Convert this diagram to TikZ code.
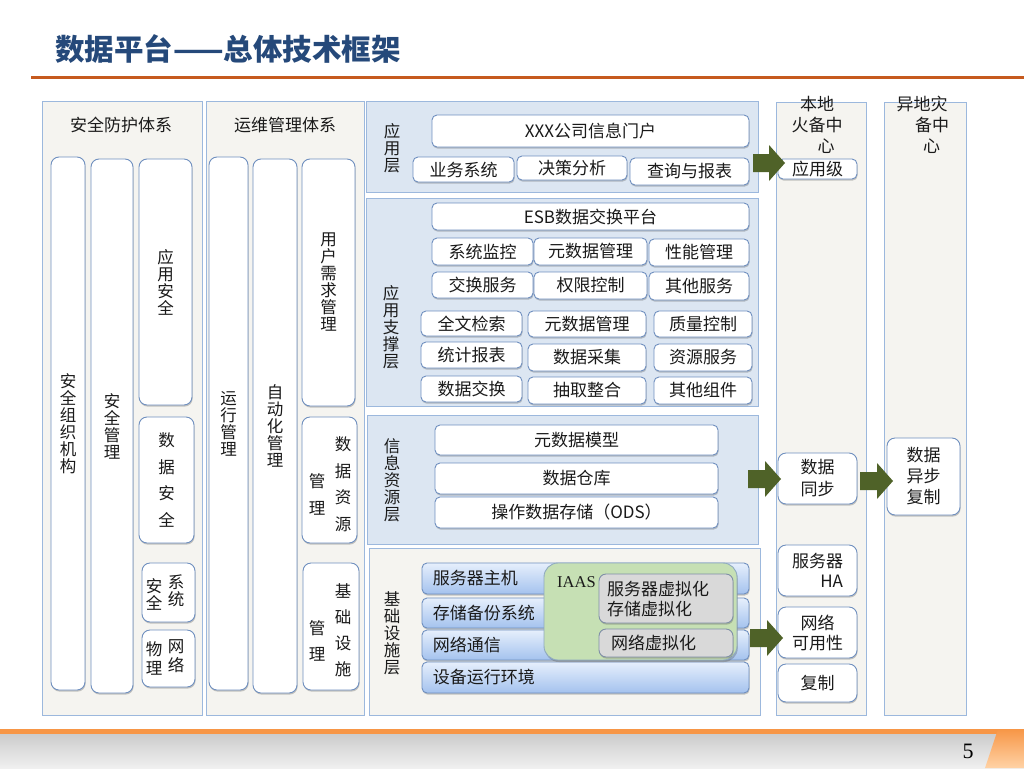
\documentclass[tikz,border=0pt]{standalone}
\usepackage{fontspec}
\setmainfont{Noto Sans CJK SC}
\newfontfamily\serifnum{Liberation Serif}
\usetikzlibrary{shadows,calc}
\definecolor{panelgray}{HTML}{F5F4F0}
\definecolor{panelblue}{HTML}{DCE6F2}
\definecolor{panelline}{HTML}{9CB8DD}
\definecolor{boxline}{HTML}{6F8FBF}
\definecolor{titleblue}{HTML}{25497A}
\definecolor{rulered}{HTML}{C65A1E}
\definecolor{arrowgreen}{HTML}{4F6228}
\definecolor{iaasgreen}{HTML}{C6E0B4}
\definecolor{iaasline}{HTML}{8FAAC0}
\definecolor{vgray}{HTML}{D9D9D9}
\definecolor{vgrayline}{HTML}{7F8FA6}
\definecolor{bartop}{HTML}{E6EFFC}
\definecolor{barbot}{HTML}{A4C2EE}
\definecolor{footorange}{HTML}{F79646}
\definecolor{txt}{HTML}{1A1A1A}
\newcommand\blockarrow[2]{%
  \fill[arrowgreen] ($(#1)+(0,-9)$) -- ($(#2)+(-16,-9)$) -- ($(#2)+(-16,-18)$) -- (#2) -- ($(#2)+(-16,18)$) -- ($(#2)+(-16,9)$) -- ($(#1)+(0,9)$) -- cycle;}
\tikzset{
  span/.style n args={4}{at={({(#1+#3)/2},{(#2+#4)/2})}, minimum width={(#3-#1)*1pt}, minimum height={(#4-#2)*1pt}},
  panel/.style={draw=panelline, line width=0.8pt, fill=panelgray, inner sep=0pt, outer sep=0pt},
  bpanel/.style={panel, fill=panelblue},
  wbox/.style={draw=boxline, line width=0.9pt, fill=white, rounded corners=5pt, inner sep=0pt, outer sep=0pt,
    text=txt, align=center, font=\fontsize{17}{18}\selectfont,
    drop shadow={shadow xshift=0.6pt, shadow yshift=-1.6pt, opacity=0.3, fill=black!70}},
  colbox/.style={wbox, rounded corners=8pt, font=\fontsize{16.5}{17}\selectfont},
  rbox/.style={wbox, rounded corners=8pt},
  bar/.style={draw=boxline, line width=0.9pt, rounded corners=5pt, top color=bartop, bottom color=barbot, inner sep=0pt,
    drop shadow={shadow xshift=0.6pt, shadow yshift=-1.6pt, opacity=0.3, fill=black!70}},
  vbox/.style={draw=vgrayline, line width=0.9pt, fill=vgray, rounded corners=7pt, inner sep=0pt,
    drop shadow={shadow xshift=0.6pt, shadow yshift=-1.6pt, opacity=0.3, fill=black!70}},
  iaas/.style={draw=iaasline, line width=0.9pt, fill=iaasgreen, rounded corners=14pt, inner sep=0pt,
    drop shadow={shadow xshift=0.8pt, shadow yshift=-2pt, opacity=0.3, fill=black!70}},
  lbl/.style={inner sep=0pt, text=txt, align=center, font=\fontsize{16.5}{17}\selectfont},
}
\begin{document}
\begin{tikzpicture}[x=1pt,y=-1pt]
\useasboundingbox (0,0) rectangle (1024,768);
\fill[white] (0,0) rectangle (1024,768);
% title and rule
\node[anchor=west, inner sep=0pt, text=titleblue, font=\fontsize{29.5}{31}\selectfont\bfseries] (title) at (55,49) {数据平台——总体技术框架};
\fill[rulered] (31,76) rectangle (1024,79);
% footer
\fill[footorange] (0,729) rectangle (1024,734);
\shade[top color=black!20, bottom color=black!6] (0,734) rectangle (1024,768);
\shade[top color=footorange, bottom color=orange!35] (998,729) -- (1024,729) -- (1024,768) -- (985,768) -- cycle;
\node[inner sep=0pt, font=\serifnum\fontsize{22}{24}\selectfont] (pnum) at (968,751) {5};

% ===== panel 1
\node[panel, span={42}{101}{202}{715}] (p1) {};
\node[lbl, font=\fontsize{17}{17}\selectfont] (p1t) at (121,125) {安全防护体系};
\node[colbox, span={51}{157}{85}{690}] (c11) {安\\全\\组\\织\\机\\构};
\node[colbox, span={91}{159}{133}{693}] (c12) {安\\全\\管\\理};
\node[colbox, span={139}{159}{192}{405}] (c13) {应\\用\\安\\全};
\node[colbox, span={139}{417}{194}{543}, font=\fontsize{16.5}{26.5}\selectfont] (c14) {数\\据\\安\\全};
\node[wbox, rounded corners=8pt, span={142}{563}{195}{622}] (c15) {};
\node[lbl] (c15a) at (154,594) {安\\全};
\node[lbl] (c15b) at (176,591) {系\\统};
\node[wbox, rounded corners=8pt, span={142}{630}{195}{687}] (c16) {};
\node[lbl, font=\fontsize{16.5}{19}\selectfont] (c16a) at (154,658) {物\\理};
\node[lbl, font=\fontsize{16.5}{19}\selectfont] (c16b) at (176,656) {网\\络};

% ===== panel 2
\node[panel, span={206}{101}{364}{715}] (p2) {};
\node[lbl, font=\fontsize{17}{17}\selectfont] (p2t) at (285,125) {运维管理体系};
\node[colbox, span={209}{157}{248}{690}] (c21) {运\\行\\管\\理};
\node[colbox, span={253}{159}{297}{693}] (c22) {自\\动\\化\\管\\理};
\node[colbox, span={302}{159}{355}{406}] (c23) {用\\户\\需\\求\\管\\理};
\node[colbox, span={302}{417}{357}{543}] (c24) {};
\node[lbl, font=\fontsize{16.5}{26.5}\selectfont] (c24a) at (343,484) {数\\据\\资\\源};
\node[lbl, font=\fontsize{16.5}{27}\selectfont] (c24b) at (317,494) {管\\理};
\node[colbox, span={303}{563}{359}{690}] (c25) {};
\node[lbl, font=\fontsize{16.5}{26}\selectfont] (c25a) at (343,630) {基\\础\\设\\施};
\node[lbl, font=\fontsize{16.5}{26}\selectfont] (c25b) at (317,641) {管\\理};

% ===== application layer
\node[bpanel, span={366}{101}{758}{192}] (L1) {};
\node[lbl] (L1t) at (392,148) {应\\用\\层};
\node[wbox, span={432}{115}{749}{147}] (portal) {XXX公司信息门户};
\node[wbox, span={413}{157}{514}{182}] (b1) {业务系统};
\node[wbox, span={517}{156}{627}{180}] (b2) {决策分析};
\node[wbox, span={630}{158}{749}{185}] (b3) {查询与报表};

% ===== support layer
\node[bpanel, span={366}{198}{758}{406}] (L2) {};
\node[lbl] (L2t) at (391,327) {应\\用\\支\\撑\\层};
\node[wbox, span={432}{203}{749}{230}] (esb) {ESB数据交换平台};
\node[wbox, span={432}{238}{533}{265}] (s11) {系统监控};
\node[wbox, span={534}{238}{647}{265}] (s12) {元数据管理};
\node[wbox, span={649}{239}{749}{266}] (s13) {性能管理};
\node[wbox, span={432}{272}{533}{298}] (s21) {交换服务};
\node[wbox, span={534}{272}{647}{299}] (s22) {权限控制};
\node[wbox, span={649}{272}{749}{300}] (s23) {其他服务};
\node[wbox, span={421}{311}{522}{336}] (s31) {全文检索};
\node[wbox, span={528}{311}{646}{337}] (s32) {元数据管理};
\node[wbox, span={654}{311}{752}{337}] (s33) {质量控制};
\node[wbox, span={421}{342}{522}{368}] (s41) {统计报表};
\node[wbox, span={528}{344}{646}{371}] (s42) {数据采集};
\node[wbox, span={654}{344}{752}{371}] (s43) {资源服务};
\node[wbox, span={421}{376}{522}{402}] (s51) {数据交换};
\node[wbox, span={528}{377}{646}{404}] (s52) {抽取整合};
\node[wbox, span={654}{377}{752}{404}] (s53) {其他组件};

% ===== information resource layer
\node[bpanel, span={367}{415}{758}{544}] (L3) {};
\node[lbl] (L3t) at (392,480) {信\\息\\资\\源\\层};
\node[wbox, span={435}{425}{718}{455}] (i1) {元数据模型};
\node[wbox, span={435}{463}{718}{494}] (i2) {数据仓库};
\node[wbox, span={435}{497}{718}{528}] (i3) {操作数据存储（ODS）};

% ===== infrastructure layer
\node[panel, span={369}{548}{760}{715}] (L4) {};
\node[lbl] (L4t) at (392,633) {基\\础\\设\\施\\层};
\node[bar, span={422}{563}{749}{594}] (f1) {};
\node[bar, span={422}{598}{749}{628}] (f2) {};
\node[bar, span={422}{630}{749}{660}] (f3) {};
\node[bar, span={422}{662}{749}{693}] (f4) {};
\node[lbl, anchor=west, font=\fontsize{17}{18}\selectfont] (f1t) at ([xshift=11pt]f1.west) {服务器主机};
\node[lbl, anchor=west, font=\fontsize{17}{18}\selectfont] (f2t) at ([xshift=11pt]f2.west) {存储备份系统};
\node[lbl, anchor=west, font=\fontsize{17}{18}\selectfont] (f3t) at ([xshift=11pt]f3.west) {网络通信};
\node[lbl, anchor=west, font=\fontsize{17}{18}\selectfont] (f4t) at ([xshift=11pt]f4.west) {设备运行环境};
\node[iaas, span={544}{563}{737}{660}] (ia) {};
\node[lbl, anchor=west, font=\serifnum\fontsize{16.5}{17}\selectfont] (iat) at (557,582) {IAAS};
\node[vbox, span={599}{574}{733}{623}] (v1) {};
\node[lbl, anchor=west, align=left, font=\fontsize{17}{20}\selectfont] (v1t) at (607,599) {服务器虚拟化\\存储虚拟化};
\node[vbox, span={599}{629}{733}{657}] (v2) {};
\node[lbl, anchor=west, font=\fontsize{17}{18}\selectfont] (v2t) at (611,643) {网络虚拟化};

% ===== right columns
\node[panel, span={776}{102}{866}{715}] (R1) {};
\node[lbl, font=\fontsize{17}{21}\selectfont] (R1t) at (817,125) {本地\\火备中\\\hspace*{18pt}心};
\node[panel, span={884}{102}{966}{715}] (R2) {};
\node[lbl, font=\fontsize{17}{21}\selectfont] (R2t) at (922,125) {异地灾\\\hspace*{20pt}备中\\\hspace*{19pt}心};
\node[rbox, rounded corners=5pt, span={778}{159}{857}{179}] (yyj) {应用级};
\node[rbox, span={778}{453}{857}{504}, font=\fontsize{17}{22}\selectfont] (sjtb) {数据\\同步};
\node[rbox, span={778}{545}{857}{596}, align=right, font=\fontsize{17}{20}\selectfont] (fwq) {服务器\\HA};
\node[rbox, span={778}{607}{857}{658}, font=\fontsize{17}{20}\selectfont] (wlky) {网络\\可用性};
\node[rbox, span={778}{664}{857}{702}] (fz) {复制};
\node[rbox, span={887}{438}{960}{515}, font=\fontsize{17}{21}\selectfont] (ybfz) {数据\\异步\\复制};

% ===== arrows
\coordinate (a1s) at (753,163);
\coordinate (a1e) at (785,163);
\coordinate (a2s) at (748,479);
\coordinate (a2e) at (781,479);
\coordinate (a3s) at (860,481);
\coordinate (a3e) at (893,481);
\coordinate (a4s) at (750,638);
\coordinate (a4e) at (783,638);
\blockarrow{a1s}{a1e}
\blockarrow{a2s}{a2e}
\blockarrow{a3s}{a3e}
\blockarrow{a4s}{a4e}
\end{tikzpicture}
\end{document}
